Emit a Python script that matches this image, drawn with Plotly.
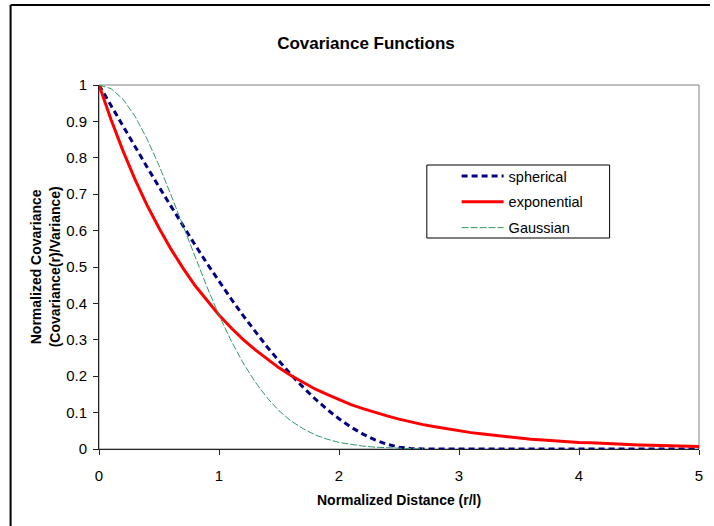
import plotly.graph_objects as go

# Normalized distance r/l
distance = [0.0, 0.1, 0.2, 0.3, 0.4, 0.5, 0.6, 0.7, 0.8, 0.9,
            1.0, 1.1, 1.2, 1.3, 1.4, 1.5, 1.6, 1.7, 1.8, 1.9,
            2.0, 2.1, 2.2, 2.3, 2.4, 2.5, 2.6, 2.7, 2.8, 2.9,
            3.0, 3.1, 3.2, 3.3, 3.4, 3.5, 3.6, 3.7, 3.8, 3.9,
            4.0, 4.1, 4.2, 4.3, 4.4, 4.5, 4.6, 4.7, 4.8, 4.9, 5.0]

spherical = [1.000, 0.943, 0.887, 0.831, 0.775, 0.720, 0.666, 0.613, 0.561, 0.510,
             0.461, 0.413, 0.367, 0.323, 0.281, 0.242, 0.204, 0.170, 0.138, 0.109,
             0.083, 0.060, 0.041, 0.025, 0.013, 0.005, 0.001, 0.000, 0.000, 0.000,
             0.000, 0.000, 0.000, 0.000, 0.000, 0.000, 0.000, 0.000, 0.000, 0.000,
             0.000, 0.000, 0.000, 0.000, 0.000, 0.000, 0.000, 0.000, 0.000, 0.000, 0.000]

exponential = [1.000, 0.905, 0.819, 0.741, 0.670, 0.607, 0.549, 0.497, 0.449, 0.407,
               0.368, 0.333, 0.301, 0.273, 0.247, 0.223, 0.202, 0.183, 0.165, 0.150,
               0.135, 0.122, 0.111, 0.100, 0.091, 0.082, 0.074, 0.067, 0.061, 0.055,
               0.050, 0.045, 0.041, 0.037, 0.033, 0.030, 0.027, 0.025, 0.022, 0.020,
               0.018, 0.017, 0.015, 0.014, 0.012, 0.011, 0.010, 0.009, 0.008, 0.007, 0.007]

gaussian_distance = distance[:28]
gaussian = [1.000, 0.990, 0.961, 0.914, 0.852, 0.779, 0.698, 0.613, 0.527, 0.445,
            0.368, 0.298, 0.237, 0.185, 0.141, 0.105, 0.077, 0.056, 0.039, 0.027,
            0.018, 0.012, 0.008, 0.005, 0.003, 0.002, 0.001, 0.001]

FONT = "Liberation Sans, Arial, sans-serif"

fig = go.Figure()
fig.add_trace(go.Scatter(x=distance, y=spherical, mode="lines", name="spherical",
                         legendgroup="a",
                         line=dict(color="#000080", width=3, dash="6px,4px")))
fig.add_trace(go.Scatter(x=distance, y=exponential, mode="lines", name="exponential",
                         legendgroup="b",
                         line=dict(color="#FF0000", width=3)))
fig.add_trace(go.Scatter(x=gaussian_distance, y=gaussian, mode="lines", name="Gaussian",
                         legendgroup="c",
                         line=dict(color="#339966", width=1, dash="7px,2px")))

L, R, T, B = 99, 11, 85, 77
W, H = 714, 526
pw, ph = W - L - R, H - T - B

def px(xp):
    return (xp - L) / pw

def py(yp):
    return (H - B - yp) / ph

shapes = [
    # plot area border (grey)
    dict(type="rect", xref="paper", yref="paper", x0=0, x1=1, y0=0, y1=1,
         line=dict(color="#808080", width=1), layer="below"),
    # chart outer border (left and top edges visible)
    dict(type="line", xref="paper", yref="paper", x0=px(10), x1=px(10),
         y0=py(5), y1=py(526), line=dict(color="#000000", width=2), layer="below"),
    dict(type="line", xref="paper", yref="paper", x0=px(10), x1=px(714),
         y0=py(5), y1=py(5), line=dict(color="#000000", width=2), layer="below"),
    # legend box
    dict(type="rect", xref="paper", yref="paper", x0=px(429), x1=px(613),
         y0=py(238), y1=py(165), line=dict(color="#000000", width=1),
         fillcolor="white", layer="below"),
]

annotations = [
    dict(text="<b>Normalized Covariance<br>(Covariance(r)/Variance)</b>",
         xref="paper", yref="paper", x=px(45), y=0.5, textangle=-90,
         showarrow=False, xanchor="center", yanchor="middle",
         font=dict(family=FONT, size=14, color="black")),
    dict(text="<b>Normalized Distance (r/l)</b>",
         xref="paper", yref="paper", x=0.5, y=py(500),
         showarrow=False, xanchor="center", yanchor="middle",
         font=dict(family=FONT, size=14, color="black")),
]

fig.update_layout(
    width=W, height=H,
    margin=dict(l=L, r=R, t=T, b=B, pad=0),
    paper_bgcolor="white", plot_bgcolor="white",
    font=dict(family=FONT, size=15, color="black"),
    title=dict(text="<b>Covariance Functions</b>", x=366 / W, y=1 - 43 / H,
               xanchor="center", yanchor="middle", xref="container", yref="container",
               font=dict(family=FONT, size=17, color="black")),
    showlegend=True,
    legend=dict(x=px(459), y=py(160), xanchor="left", yanchor="top",
                bgcolor="rgba(0,0,0,0)", borderwidth=0, itemwidth=42,
                traceorder="grouped", tracegroupgap=4,
                font=dict(family=FONT, size=14.5, color="black")),
    shapes=shapes,
    annotations=annotations,
    xaxis=dict(range=[0, 5], dtick=1, tick0=0, showgrid=False, zeroline=False,
               showline=True, linecolor="#222222", linewidth=1,
               ticks="outside", ticklen=5, tickcolor="#222222",
               ticklabelstandoff=8,
               tickfont=dict(family=FONT, size=15, color="black"),
               fixedrange=True),
    yaxis=dict(range=[0, 1], dtick=0.1, tick0=0, showgrid=False, zeroline=False,
               showline=True, linecolor="#222222", linewidth=1,
               ticks="outside", ticklen=5, tickcolor="#222222",
               ticklabelstandoff=3,
               tickfont=dict(family=FONT, size=15, color="black"),
               fixedrange=True),
)

fig.write_html("out.html")
